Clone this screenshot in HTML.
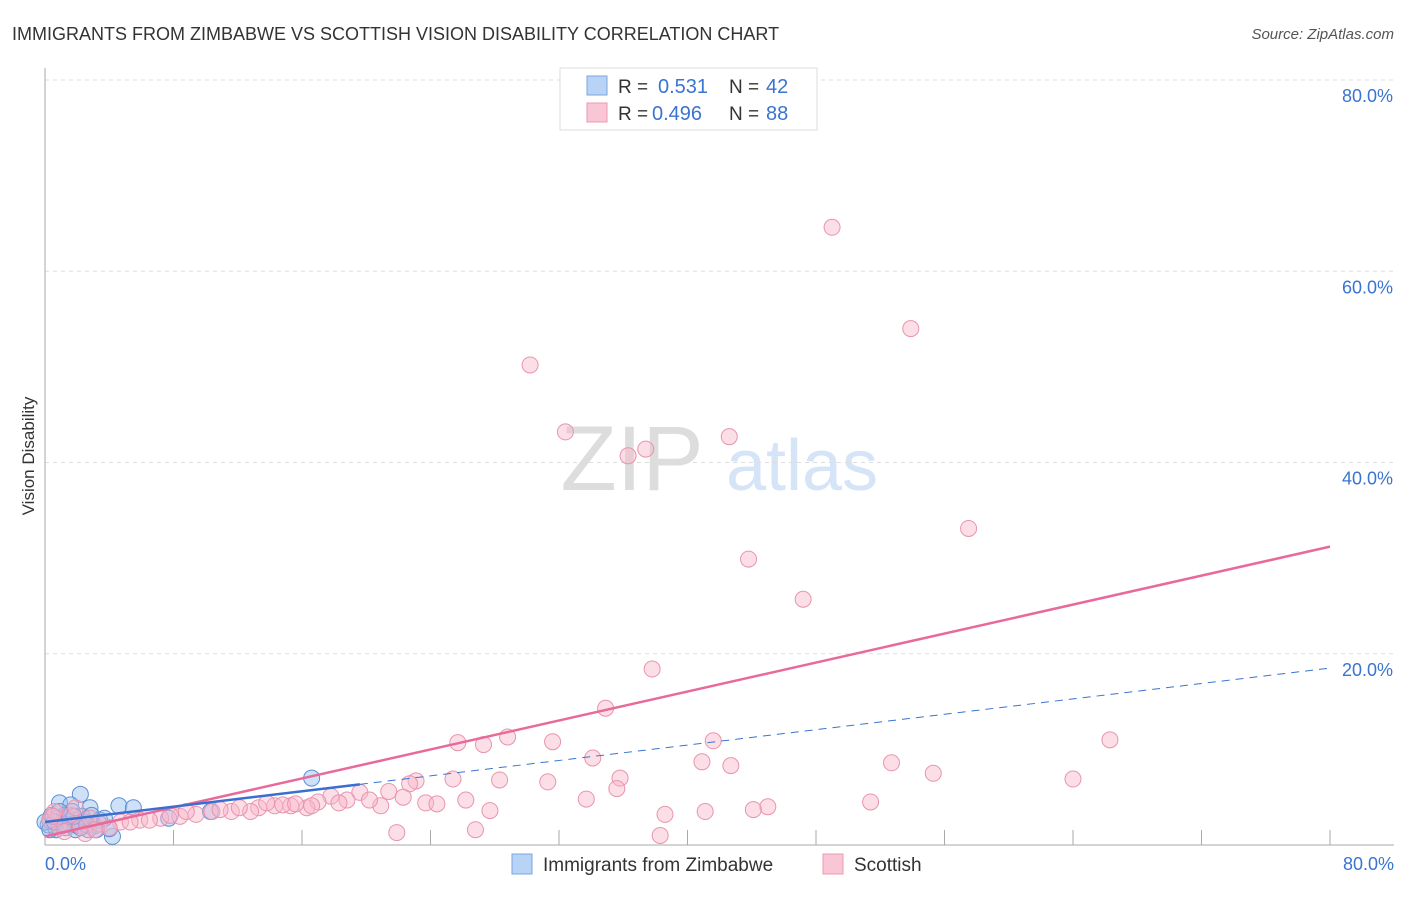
<!DOCTYPE html>
<html><head><meta charset="utf-8"><style>
body{margin:0;background:#fff;font-family:"Liberation Sans",sans-serif}
svg text{font-family:"Liberation Sans",sans-serif}
</style></head><body>
<svg id="chart" width="1406" height="892" viewBox="0 0 1406 892" xmlns="http://www.w3.org/2000/svg">
<text x="12" y="40" font-size="18" fill="#333">IMMIGRANTS FROM ZIMBABWE VS SCOTTISH VISION DISABILITY CORRELATION CHART</text>
<text x="1394" y="39" font-size="15" fill="#555" text-anchor="end" font-style="italic">Source: ZipAtlas.com</text>
<text transform="translate(34,456) rotate(-90)" font-size="17" fill="#333" text-anchor="middle">Vision Disability</text>
<g>
<text x="632" y="490" font-size="92" fill="#ddd" font-family="Liberation Serif" text-anchor="middle">ZIP</text>
<text x="802" y="490" font-size="72" fill="#d6e4f7" text-anchor="middle">atlas</text>
</g>
<g id="grid"></g><g id="axes"></g><g id="marks"></g>
<g>
<rect x="560" y="68" width="257" height="62" fill="#fff" stroke="#ddd"/>
<rect x="587" y="76" width="20" height="19" fill="#b8d3f5" stroke="#7aa6e0"/>
<text x="618" y="93" font-size="19" fill="#333">R =</text><text x="658" y="93" font-size="20" fill="#3a74d0">0.531</text>
<text x="729" y="93" font-size="19" fill="#333">N =</text><text x="766" y="93" font-size="20" fill="#3a74d0">42</text>
<rect x="587" y="103" width="20" height="19" fill="#f9c6d5" stroke="#eb9ab2"/>
<text x="618" y="120" font-size="19" fill="#333">R =</text><text x="652" y="120" font-size="20" fill="#3a74d0">0.496</text>
<text x="729" y="120" font-size="19" fill="#333">N =</text><text x="766" y="120" font-size="20" fill="#3a74d0">88</text>
</g>
<g>
<rect x="512" y="854" width="20" height="20" fill="#b8d3f5" stroke="#7aa6e0"/>
<text x="543" y="871" font-size="19" fill="#333">Immigrants from Zimbabwe</text>
<rect x="823" y="854" width="20" height="20" fill="#f9c6d5" stroke="#eb9ab2"/>
<text x="854" y="871" font-size="19" fill="#333">Scottish</text>
</g>
</svg>
<script>
const pinkX=[49.0,53.9,30.2,32.4,42.6,37.4,36.3,57.5,43.8,47.2,37.8,34.9,28.8,27.3,25.7,31.6,41.6,66.3,34.1,40.9,52.7,42.7,55.3,64.0,35.8,28.3,31.3,25.4,23.1,22.7,21.4,35.6,22.3,26.2,33.7,51.4,45.0,44.1,41.1,27.7,38.6,23.7,24.4,20.9,19.6,18.8,17.8,17.0,16.3,15.3,14.3,13.3,12.8,11.6,10.4,9.4,8.4,7.2,5.9,4.7,3.4,2.2,0.9,0.3,0.6,1.6,2.8,4.0,5.3,6.5,7.8,8.8,10.9,12.1,13.8,14.8,15.6,16.6,18.3,20.2,21.9,26.8,38.3,2.5,1.2,1.9,3.1,0.5];
const pinkY=[64.6,54.0,50.2,43.2,42.7,41.4,40.7,33.1,29.9,25.7,18.4,14.3,11.3,10.5,10.7,10.8,10.9,11.0,9.1,8.7,8.6,8.3,7.5,6.9,7.0,6.8,6.6,6.9,6.7,6.4,5.6,5.9,5.0,4.7,4.8,4.5,4.0,3.7,3.5,3.6,3.2,4.4,4.3,4.1,5.5,4.7,5.1,4.5,3.9,4.1,4.1,3.9,3.5,3.5,3.5,3.2,3.0,2.8,2.6,2.4,2.2,2.0,1.8,2.6,3.5,3.1,2.8,1.8,2.4,2.6,3.1,3.5,3.7,3.9,4.4,4.2,4.3,4.1,4.4,4.7,1.3,1.6,1.0,1.2,1.4,3.9,1.6,3.0];
const blueX=[16.6,2.2,4.6,5.5,0.9,1.6,2.8,0.3,0.6,1.1,1.4,1.9,2.5,3.1,4.2,4.0,7.7,10.3,0.7,0.2,1.2,1.7,2.1,2.7,3.4,0.4,0.8,1.3,1.9,2.3,2.9,0.0,0.3,0.9,1.6,2.2,3.7,1.2,1.8,2.6,0.6,3.2];
const blueY=[7.0,5.3,4.1,3.9,4.4,4.2,3.9,2.6,2.0,2.4,2.8,2.1,2.4,2.0,0.9,1.7,2.8,3.5,1.6,2.1,3.1,3.5,2.6,1.6,2.6,3.1,2.8,1.8,1.6,3.0,3.1,2.4,1.6,3.5,2.1,1.8,2.8,2.2,3.0,2.1,2.4,1.6];
const pinkTrend=[0.9,31.2];
const blueTrend=[2.4,18.5];
const blueSolidEnd=19.6;
const yTicks=[20,40,60,80];
const yTickLabels=["20.0%","40.0%","60.0%","80.0%"];
const xTicks=[0,8,16,24,32,40,48,56,64,72,80];
const NS='http://www.w3.org/2000/svg';
const sx=v=>45+v/80*1285, sy=v=>845-v/80*765;
function mk(tag,attrs,parent){const e=document.createElementNS(NS,tag);for(const k in attrs)e.setAttribute(k,attrs[k]);document.getElementById(parent).appendChild(e);return e;}
yTicks.forEach((t,i)=>{
 const l=mk('line',{x1:45,x2:1394,y1:sy(t),y2:sy(t),stroke:'#ddd','stroke-dasharray':'4,4'},'grid');
 
 
 const tx=mk('text',{x:1393,y:sy(t)+22,'font-size':18,fill:'#3a74d0','text-anchor':'end'},'grid');
 tx.textContent=yTickLabels[i];
 
 
});
const ya=mk('line',{x1:45,x2:45,y1:68,y2:845,stroke:'#aaa'},'axes');


const xa=mk('line',{x1:45,x2:1394,y1:845,y2:845,stroke:'#aaa'},'axes');


xTicks.forEach(t=>{
 const l=mk('line',{x1:sx(t),x2:sx(t),y1:830,y2:845,stroke:'#aaa'},'axes');
 
 
});
const x0=mk('text',{x:45,y:870,'font-size':18,fill:'#3a74d0'},'axes');x0.textContent='0.0%';


const x1=mk('text',{x:1394,y:870,'font-size':18,fill:'#3a74d0','text-anchor':'end'},'axes');x1.textContent='80.0%';


blueX.forEach((v,i)=>{
 const c=mk('circle',{cx:sx(v),cy:sy(blueY[i]),r:8,fill:'rgba(160,196,240,0.5)',stroke:'#5a8fd8','stroke-width':1},'marks');
 
 
});
pinkX.forEach((v,i)=>{
 const c=mk('circle',{cx:sx(v),cy:sy(pinkY[i]),r:8,fill:'rgba(248,182,202,0.45)',stroke:'#e994ae','stroke-width':1},'marks');
 
 
});
const bt=v=>blueTrend[0]+(blueTrend[1]-blueTrend[0])*v/80;
const bd=mk('line',{x1:sx(blueSolidEnd),y1:sy(bt(blueSolidEnd)),x2:sx(80),y2:sy(blueTrend[1]),stroke:'#3a74d0','stroke-width':1,'stroke-dasharray':'8,6'},'marks');


const pl=mk('line',{x1:sx(0),y1:sy(pinkTrend[0]),x2:sx(80),y2:sy(pinkTrend[1]),stroke:'#e8699a','stroke-width':2.5},'marks');


const bl=mk('line',{x1:sx(0),y1:sy(blueTrend[0]),x2:sx(blueSolidEnd),y2:sy(bt(blueSolidEnd)),stroke:'#3a6fd0','stroke-width':2.5},'marks');


</script>
</body></html>
